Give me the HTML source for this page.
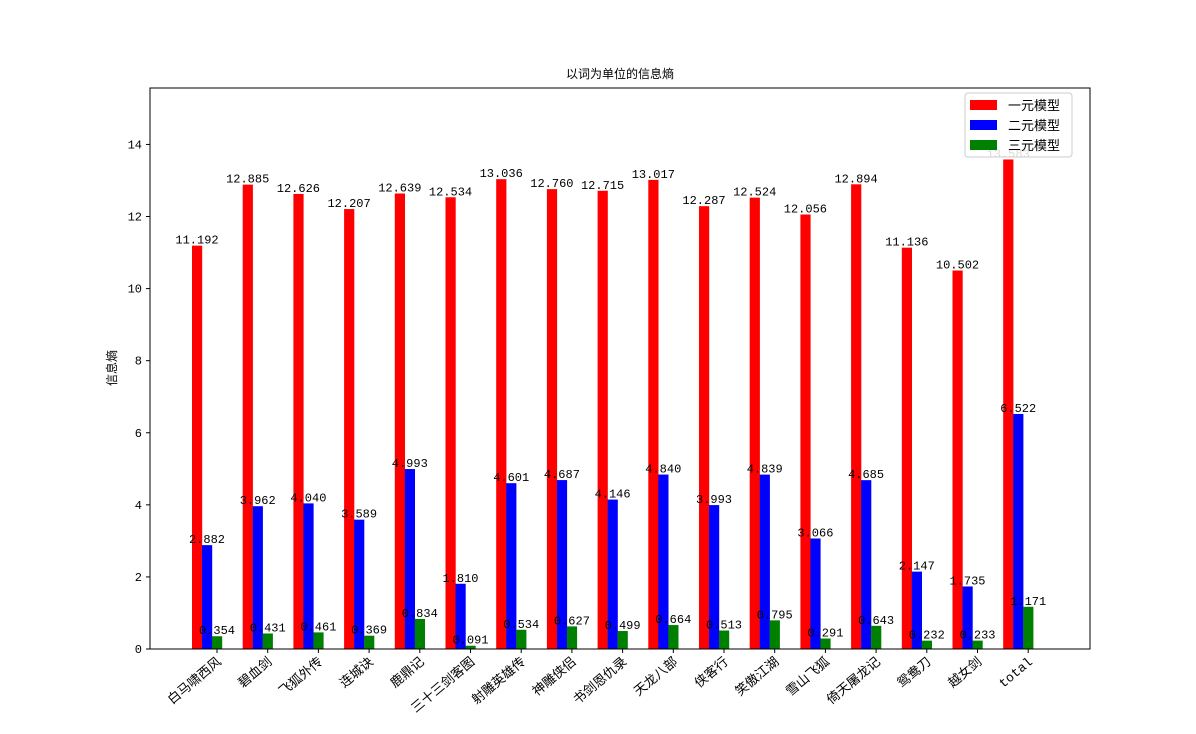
<!DOCTYPE html>
<html><head><meta charset="utf-8"><style>body{margin:0;background:#fff}svg{font-family:"Liberation Mono","WenQuanYi Zen Hei",monospace}</style></head>
<body>
<svg id="c" width="1196" height="729">
<text x="620" y="78" font-size="12" text-anchor="middle">以词为单位的信息熵</text>
<text transform="translate(116,368) rotate(-90)" font-size="12" text-anchor="middle">信息熵</text>
<text x="612" y="740" font-size="12" text-anchor="middle">数据集</text>
<g id="g"></g>
<rect x="150" y="88" width="940" height="561" fill="none" stroke="#000" stroke-width="1"/>
<g>
<rect x="965" y="93" width="107" height="64" rx="3" fill="#fff" fill-opacity="0.85" stroke="#ccc"/>
<rect x="970" y="100" width="27" height="10" fill="#f00"/>
<text x="1008" y="110" font-size="13">一元模型</text>
<rect x="970" y="120" width="27" height="10" fill="#00f"/>
<text x="1008" y="130" font-size="13">二元模型</text>
<rect x="970" y="140" width="27" height="10" fill="#008000"/>
<text x="1008" y="150" font-size="13">三元模型</text>
</g>
</svg>
<script>
const categories=["白马啸西风","碧血剑","飞狐外传","连城诀","鹿鼎记","三十三剑客图","射雕英雄传","神雕侠侣","书剑恩仇录","天龙八部","侠客行","笑傲江湖","雪山飞狐","倚天屠龙记","鸳鸯刀","越女剑","total"];
const unigram=[11.192,12.885,12.626,12.207,12.639,12.534,13.036,12.760,12.715,13.017,12.287,12.524,12.056,12.894,11.136,10.502,13.583];
const bigram=[2.882,3.962,4.040,3.589,4.993,1.810,4.601,4.687,4.146,4.840,3.993,4.839,3.066,4.685,2.147,1.735,6.522];
const trigram=[0.354,0.431,0.461,0.369,0.834,0.091,0.534,0.627,0.499,0.664,0.513,0.795,0.291,0.643,0.232,0.233,1.171];
const yTicks=[0,2,4,6,8,10,12,14];
const NS='http://www.w3.org/2000/svg',g=document.getElementById('g');
const y=v=>649-v*36.04, x=i=>217+i*50.7;
function mk(t,a){const e=document.createElementNS(NS,t);for(const k in a)e.setAttribute(k,a[k]);g.appendChild(e);return e;}
yTicks.forEach(t=>{
 const l=mk('line',{x1:146,x2:150,y1:y(t),y2:y(t),stroke:'#000'});
 
 
 const tx=mk('text',{x:142,y:y(t)+4,'font-size':12,'text-anchor':'end'});tx.textContent=t;
 
 
});
const series=[[unigram,'#f00',-20,'unigram'],[bigram,'#00f',-10,'bigram'],[trigram,'#008000',0,'trigram']];
categories.forEach((c,i)=>{
 const l=mk('line',{x1:x(i),x2:x(i),y1:649,y2:653,stroke:'#000'});
 
 
 const tx=mk('text',{transform:`translate(${x(i)+5},663) rotate(-40)`,'font-size':13,'text-anchor':'end'});tx.textContent=c;
 
 
});
series.forEach(([d,col,off,nm])=>{
 d.forEach((v,i)=>{
  const cx=x(i)+off;
  const r=mk('rect',{x:cx-5,y:y(v),width:10.2,height:649-y(v),fill:col});
  
  
 });
});
series.forEach(([d,col,off,nm])=>{
 d.forEach((v,i)=>{
  const t=mk('text',{x:x(i)+off,y:y(v)-2,'font-size':12,'text-anchor':'middle'});t.textContent=v.toFixed(3);
  
  
 });
});
</script>
</body></html>
